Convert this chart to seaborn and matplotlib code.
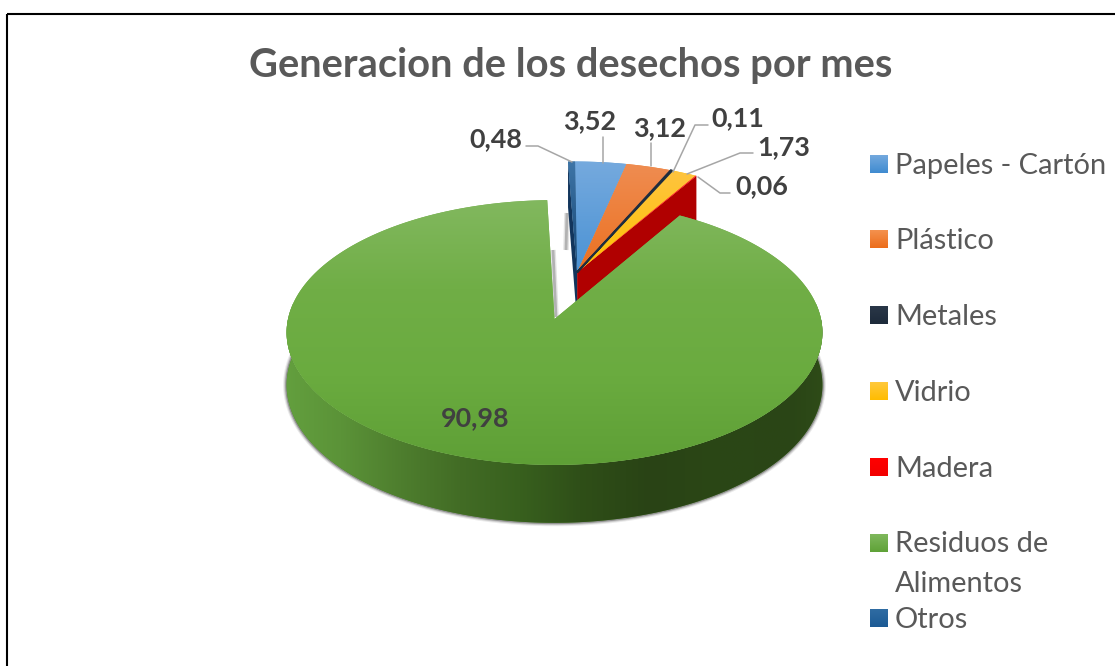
# Generacion de los desechos por mes - pie drawn with a 3D look

import numpy as np
import matplotlib
matplotlib.use("Agg")
import matplotlib.pyplot as plt
import seaborn as sns
from matplotlib.colors import LinearSegmentedColormap
from matplotlib.patches import Polygon, Rectangle
from matplotlib.path import Path

# ------------------------------------------
# 1. DATA
# ------------------------------------------

categories = ["Papeles - Cartón", "Plástico", "Metales", "Vidrio", "Madera",
              "Residuos de\nAlimentos", "Otros"]
values = [3.52, 3.12, 0.11, 1.73, 0.06, 90.98, 0.48]
title = "Generacion de los desechos por mes"

# ------------------------------------------
# 2. STYLE
# ------------------------------------------

W, H = 1115, 666
FONT = "Lato"
sns.set_theme(style="white")
plt.rcParams["font.family"] = [FONT, "DejaVu Sans"]

colors = sns.color_palette(["#5b9bd5", "#ed7d31", "#1f2d3f", "#ffc000",
                            "#ff0000", "#70ad47", "#255e91"])
top_shades = [["#76aade", "#4a92d4"], ["#ef8d52", "#ec7020"], ["#2b3a4e", "#1f2d3f"],
              ["#fec440", "#ffc000"], ["#ff2a2a", "#ff0000"],
              ["#82b85f", "#70ae46", "#6aab3f", "#5e9f36"], ["#3f76a8", "#12426f"]]
side_green = [(285, "#639f3e"), (340, "#5b9338"), (400, "#4e7e2e"), (460, "#426c25"),
              (520, "#38601e"), (580, "#2f4f18"), (650, "#294315"), (720, "#2b4716"),
              (790, "#2a4516"), (824, "#2e4b18")]
swatch_shades = [["#74a9de", "#3f8bd0"], ["#f4914f", "#ec6d1a"], ["#2a3748", "#1d2a3a"],
                 ["#ffc93c", "#ffbc00"], ["#ff0000", "#f20000"], ["#7fb85c", "#5fa238"],
                 ["#2f6ca3", "#1c5a94"]]

# projection of the flat pie onto the page (pixels)
CX, CY, RX, RY, TILT, DEPTH = 554.5, 319, 266.5, 131, 0.102, 52
GROUP_SHIFT = (0.088, 0.37)  # the small slices are pulled out together

label_pos = [(590, 121), (660, 128), (738, 118), (784, 147), (762, 186), (475, 418), (496, 139)]
leaders = [[(603, 137), (603, 163)],
           [(651, 143), (651, 166)],
           [(708, 125), (695, 125), (673, 172)],
           [(753, 153), (740, 153), (687, 174)],
           [(730, 193), (720, 193), (698, 177)],
           None,
           [(526, 146), (538, 146), (572, 162)]]
legend_y = [164, 239, 315, 391, 467, 543, 618]


def project(x, y, drop=0.0):
    s = 1 / (1 + TILT * y)
    return np.column_stack([CX + RX * x * s, CY - RY * y * s + drop * s])


def shade(patch, stops, ext, z):
    cmap = LinearSegmentedColormap.from_list("s", stops)
    im = ax.imshow(np.linspace(0, 1, 128).reshape(-1, 1), cmap=cmap, extent=ext,
                   aspect="auto", zorder=z, interpolation="bilinear")
    im.set_clip_path(patch)


# ------------------------------------------
# 3. FIGURE AND PIE
# ------------------------------------------

fig = plt.figure(figsize=(W / 100, H / 100), dpi=100, facecolor="white")
ax = fig.add_axes([0, 0, 1, 1])

wedges, _ = ax.pie(values, colors=colors, startangle=90, counterclock=False,
                   wedgeprops={"linewidth": 0})
ax.set_aspect("auto")

GREEN = categories.index("Residuos de\nAlimentos")

for i, w in enumerate(wedges):
    sx, sy = (0, 0) if i == GREEN else GROUP_SHIFT
    t = np.radians(np.linspace(w.theta1, w.theta2, 240))
    apex = project(np.array([sx]), np.array([sy]))
    arc = project(np.cos(t) + sx, np.sin(t) + sy)
    verts = np.vstack([apex, arc, apex])
    w._path = Path(verts, closed=True)
    w.set_zorder(10 if i == GREEN else 5)
    if categories[i] == "Metales":
        w.set_edgecolor(colors[i])
        w.set_linewidth(1.4)
        w.set_zorder(6)
    ext = (verts[:, 0].min() - 2, verts[:, 0].max() + 2,
           verts[:, 1].max() + 2, verts[:, 1].min() - 2)
    shade(w, top_shades[i], ext, 10.5 if i == GREEN else 5.5)

# outer wall of the big slice
w = wedges[GREEN]
t = np.radians(np.linspace(w.theta1, w.theta2, 600))
t = t[np.sin(t) < 0.12]
upper = project(np.cos(t), np.sin(t))
lower = project(np.cos(t), np.sin(t), DEPTH)
wall = Polygon(np.vstack([upper, lower[::-1]]), closed=True, fc="#4e7e2e", ec="none", zorder=8)
ax.add_patch(wall)
x0, x1 = side_green[0][0], side_green[-1][0]
side_cmap = LinearSegmentedColormap.from_list(
    "side", [((x - x0) / (x1 - x0), c) for x, c in side_green])
im = ax.imshow(np.linspace(0, 1, 256).reshape(1, -1), cmap=side_cmap,
               extent=(x0, x1, 530, 320), aspect="auto", zorder=8.5)
im.set_clip_path(wall)

# soft shadow under the wall
for lw, a in [(5, 0.10), (3.5, 0.18), (2, 0.35)]:
    ax.plot(lower[:, 0], lower[:, 1], color="#333333", lw=lw, alpha=a, zorder=7)

# inner walls of the pulled out slices
first, last = wedges[categories.index("Otros")], wedges[categories.index("Madera")]
for ang, col in [(last.theta1, "#b00000"), (first.theta2, "#12355c")]:
    a = np.radians(ang)
    sx, sy = GROUP_SHIFT
    xs = np.array([sx, np.cos(a) + sx])
    ys = np.array([sy, np.sin(a) + sy])
    top_edge = project(xs, ys)
    low_edge = project(xs, ys, DEPTH)
    ax.add_patch(Polygon(np.vstack([top_edge, low_edge[::-1]]), closed=True,
                         fc=col, ec="none", zorder=4))

# soft shadows beside the notch
for lw, a in [(4, 0.2), (2, 0.45)]:
    ax.plot([553, 556], [250, 317], color="#777777", lw=lw, alpha=a, zorder=3, solid_capstyle="butt")
    ax.plot([567, 566], [213, 250], color="#777777", lw=lw, alpha=a, zorder=3, solid_capstyle="butt")

# ------------------------------------------
# 4. LABELS, LEGEND, TITLE
# ------------------------------------------

for i, v in enumerate(values):
    ax.text(*label_pos[i], f"{v:.2f}".replace(".", ","), ha="center", va="center",
            fontsize=19.4, fontweight="bold", color="#404040", zorder=20)
    if leaders[i]:
        lx, ly = zip(*leaders[i])
        ax.plot(lx, ly, color="#a6a6a6", lw=1.1, zorder=15)

for i, name in enumerate(categories):
    y = legend_y[i]
    box = Rectangle((870, y - 9), 18, 18, fc=colors[i], ec="none", zorder=12)
    ax.add_patch(box)
    shade(box, swatch_shades[i], (870, 888, y + 9, y - 9), 12.5)
    text_y = y + 21 if "\n" in name else y + 2
    ax.text(895, text_y, name, ha="left", va="center", fontsize=20.9,
            color="#595959", linespacing=1.62, zorder=20)

ax.text(571, 65, title, ha="center", va="center", fontsize=28.7,
        fontweight="bold", color="#595959")

# chart frame, right and bottom edges fall outside the picture
ax.add_patch(Rectangle((7, 14), W + 20, H + 20, fc="none", ec="black", lw=1.5, zorder=30))

ax.set_xlim(0, W)
ax.set_ylim(H, 0)
ax.axis("off")

fig.savefig("out.png", dpi=100)
